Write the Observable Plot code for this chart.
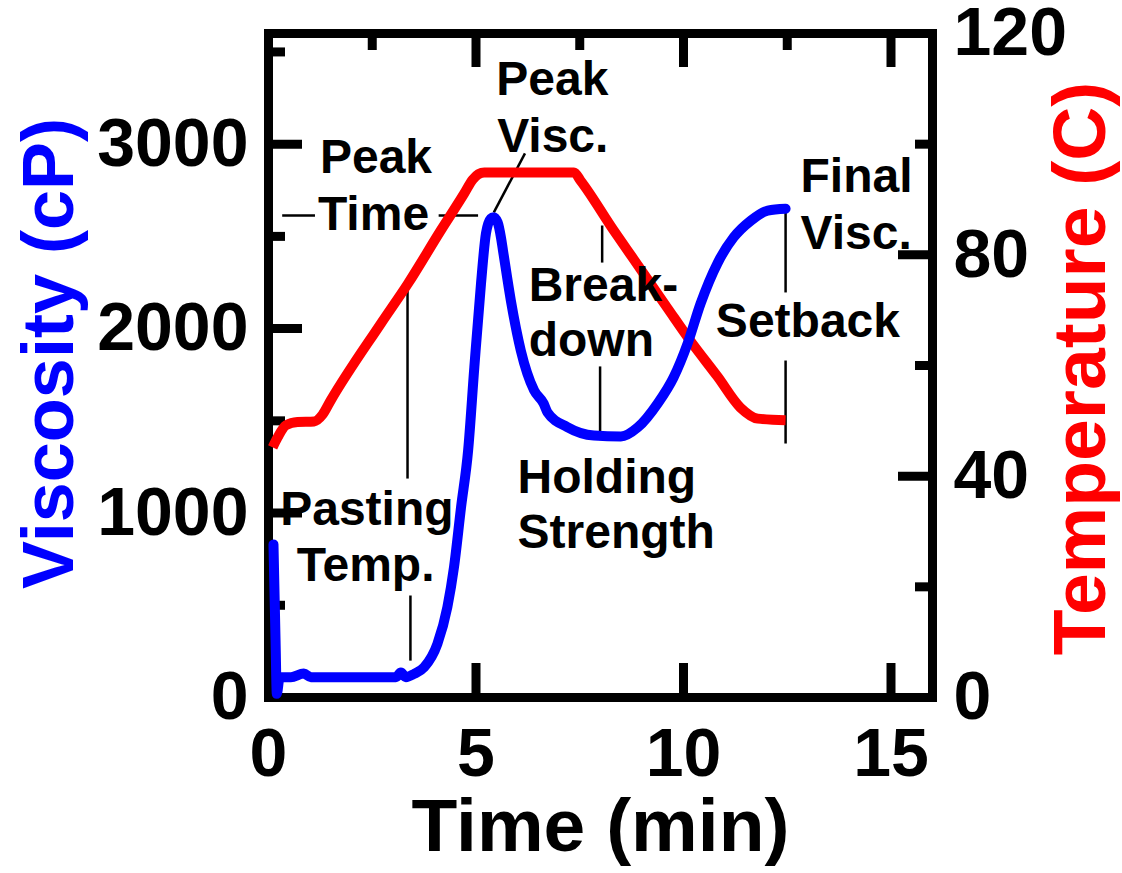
<!DOCTYPE html>
<html>
<head>
<meta charset="utf-8">
<script src="https://cdn.jsdelivr.net/npm/d3@7"></script>
<script src="https://cdn.jsdelivr.net/npm/@observablehq/plot@0.6"></script>
<style>
  html, body { margin: 0; padding: 0; background: #ffffff; }
</style>
</head>
<body>
<div id="chart"></div>
<script>
// ---- Data ----
// Viscosity curve (blue), time in minutes, viscosity in cP
const timeV = [0.12, 0.17, 0.20, 0.27, 0.54, 0.85, 1.02, 2.71, 3.07, 3.19, 3.31, 3.51, 3.75, 4.07, 4.31, 4.47, 4.64, 4.81, 4.96, 5.12, 5.24, 5.36, 5.42, 5.52, 5.60, 5.65, 5.84, 6.08, 6.40, 6.63, 6.72, 7.20, 7.84, 8.49, 8.90, 9.38, 9.76, 10.10, 10.41, 10.82, 11.21, 11.62, 12.03, 12.46];
const viscosity = [830, 310, 20, 110, 110, 130, 110, 110, 110, 135, 110, 128, 164, 291, 490, 707, 1032, 1339, 1791, 2243, 2516, 2597, 2604, 2577, 2496, 2424, 2152, 1881, 1665, 1594, 1547, 1466, 1420, 1415, 1465, 1595, 1735, 1920, 2135, 2355, 2495, 2585, 2640, 2650];

// Temperature profile (red), time in minutes, temperature in C
const timeT = [0.10, 0.22, 0.42, 0.70, 1.10, 1.30, 1.50, 2.71, 3.36, 4.15, 4.71, 4.92, 5.06, 5.20, 6.08, 7.36, 7.52, 8.32, 8.80, 9.62, 10.17, 10.82, 11.37, 11.79, 12.46];
const temperature = [45.2, 47.0, 49.2, 49.8, 49.9, 51.1, 53.7, 67.6, 74.8, 84.4, 91.0, 93.6, 94.6, 94.9, 94.9, 94.9, 93.4, 84.4, 79.2, 70.3, 64.4, 58.0, 52.4, 50.4, 50.1];

// Axis ticks
const xTicks = [0, 5, 10, 15];
const xMinor = [2.5, 7.5, 12.5];
const viscTicks = [0, 1000, 2000, 3000];
const viscMinor = [500, 1500, 2500, 3500];
const tempTicks = [0, 40, 80, 120];
const tempMinor = [20, 60, 100];

// Annotation texts (time, viscosity) - centred and left-aligned
const centredNotes = [
  {text: "Peak", t: 2.59, v: 2841},
  {text: "Time", t: 2.53, v: 2532},
  {text: "Peak", t: 6.84, v: 3264},
  {text: "Visc.", t: 6.85, v: 2955},
  {text: "Pasting", t: 2.37, v: 933},
  {text: "Temp.", t: 2.34, v: 634}
];
const leftNotes = [
  {text: "Break-", t: 6.27, v: 2152},
  {text: "down", t: 6.27, v: 1854},
  {text: "Holding", t: 6.00, v: 1111},
  {text: "Strength", t: 6.00, v: 808},
  {text: "Final", t: 12.82, v: 2738},
  {text: "Visc.", t: 12.82, v: 2434},
  {text: "Setback", t: 10.78, v: 1952}
];
// Annotation guide lines (time, viscosity)
const guides = [
  {t1: 3.35, v1: 2223, t2: 3.35, v2: 1187},
  {t1: 3.42, v1: 553, t2: 3.42, v2: 200},
  {t1: 0.33, v1: 2613, t2: 1.12, v2: 2613},
  {t1: 4.10, v1: 2613, t2: 5.05, v2: 2613},
  {t1: 5.43, v1: 2630, t2: 6.18, v2: 2950},
  {t1: 8.04, v1: 2559, t2: 8.04, v2: 2358},
  {t1: 7.99, v1: 1795, t2: 7.99, v2: 1431},
  {t1: 12.46, v1: 2651, t2: 12.46, v2: 2196},
  {t1: 12.46, v1: 1827, t2: 12.46, v2: 1377}
];

// ---- Layout ----
const W = 1122, H = 873;
const mL = 268, mR = 190, mT = 33, mB = 176;
const innerH = H - mT - mB;
const innerW = W - mL - mR;
const viscMax = 3600, tempMax = 120;
const k = viscMax / tempMax;   // temperature -> viscosity-axis units
const majorLen = 34, minorLen = 17;
const font = "'Liberation Sans', Arial, Helvetica, sans-serif";

const blue = d3.range(timeV.length).map(i => ({t: timeV[i], v: viscosity[i]}));
const red = d3.range(timeT.length).map(i => ({t: timeT[i], T: temperature[i]}));

const chart = Plot.plot({
  width: W,
  height: H,
  marginLeft: mL,
  marginRight: mR,
  marginTop: mT,
  marginBottom: mB,
  style: {fontFamily: font, fontWeight: "bold", background: "#ffffff", color: "#000000", overflow: "visible"},
  x: {domain: [0, 16]},
  y: {domain: [0, viscMax]},
  marks: [
    // inward tick marks
    Plot.tickX(xTicks.slice(1), {stroke: "#000", strokeWidth: 9, insetTop: innerH - majorLen}),
    Plot.tickX(xTicks.slice(1), {stroke: "#000", strokeWidth: 9, insetBottom: innerH - majorLen}),
    Plot.tickX(xMinor, {stroke: "#000", strokeWidth: 9, insetBottom: innerH - minorLen}),
    Plot.tickY(viscTicks.slice(1), {stroke: "#000", strokeWidth: 9, insetRight: innerW - majorLen}),
    Plot.tickY(viscMinor, {stroke: "#000", strokeWidth: 9, insetRight: innerW - minorLen}),
    Plot.tickY(tempTicks.slice(1, -1).map(d => d * k), {stroke: "#000", strokeWidth: 9, insetLeft: innerW - majorLen}),
    Plot.tickY(tempMinor.map(d => d * k), {stroke: "#000", strokeWidth: 9, insetLeft: innerW - minorLen}),
    Plot.frame({stroke: "#000", strokeWidth: 9}),

    // annotation guides
    Plot.link(guides, {x1: "t1", y1: "v1", x2: "t2", y2: "v2", stroke: "#000", strokeWidth: 2.5}),

    // temperature (red) and viscosity (blue)
    Plot.line(red, {x: "t", y: d => d.T * k, curve: "monotone-x", stroke: "#ff0000", strokeWidth: 10, strokeLinejoin: "round", strokeLinecap: "butt"}),
    Plot.line(blue, {x: "t", y: "v", curve: "monotone-x", stroke: "#0000ff", strokeWidth: 10, strokeLinejoin: "round", strokeLinecap: "round"}),

    // annotation texts
    Plot.text(centredNotes, {x: "t", y: "v", text: "text", textAnchor: "middle", lineAnchor: "bottom", fontSize: 48, fontWeight: "bold", fill: "#000"}),
    Plot.text(leftNotes, {x: "t", y: "v", text: "text", textAnchor: "start", lineAnchor: "bottom", fontSize: 48, fontWeight: "bold", fill: "#000"}),

    // axes labels
    Plot.axisX({ticks: xTicks, tickFormat: d => String(d), tickSize: 0, tickPadding: 30, fontSize: 68, fontWeight: "bold", label: null}),
    Plot.axisY({anchor: "left", ticks: viscTicks, tickFormat: d => String(d), tickSize: 0, tickPadding: 20, fontSize: 68, fontWeight: "bold", label: null}),
    Plot.axisY({anchor: "right", ticks: tempTicks.map(d => d * k), tickFormat: d => String(Math.round(d / k)), tickSize: 0, tickPadding: 21, fontSize: 68, fontWeight: "bold", label: null}),

    // axis titles
    Plot.text(["Time (min)"], {frameAnchor: "bottom", textAnchor: "middle", dy: 153, lineAnchor: "bottom", fontSize: 75, fontWeight: "bold", fill: "#000"}),
    Plot.text(["Viscosity (cP)"], {frameAnchor: "left", textAnchor: "middle", rotate: -90, dx: -196, dy: -12, lineAnchor: "bottom", fontSize: 72, fontWeight: "bold", fill: "#0000ff"}),
    Plot.text(["Temperature (C)"], {frameAnchor: "right", textAnchor: "middle", rotate: -90, dx: 172, dy: 3, lineAnchor: "bottom", fontSize: 75, fontWeight: "bold", fill: "#ff0000"})
  ]
});

document.getElementById("chart").appendChild(chart);
</script>
</body>
</html>
